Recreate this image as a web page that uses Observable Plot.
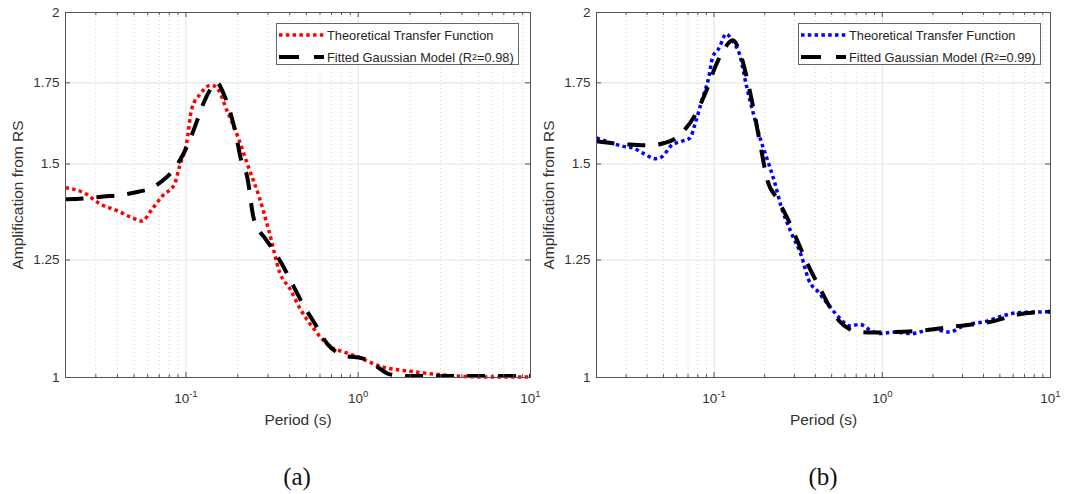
<!DOCTYPE html>
<html>
<head>
<meta charset="utf-8">
<script src="https://cdn.jsdelivr.net/npm/d3@7"></script>
<script src="https://cdn.jsdelivr.net/npm/@observablehq/plot@0.6"></script>
<style>
  body { margin: 0; background: #fff; width: 1067px; height: 494px; position: relative; overflow: hidden;
         font-family: "Liberation Sans", Arial, sans-serif; }
  .panel { position: absolute; top: 0; }
  .legend { position: absolute; background: #fff; border: 1px solid #666; box-sizing: border-box;
            font-size: 12.8px; color: #262626; }
  .legend .row { position: absolute; left: 0; height: 20px; display: flex; align-items: center; white-space: nowrap; }
  .legend svg { display: block; margin-left: 2px; margin-right: 3px; }
  .legend sup { font-size: 0.7em; vertical-align: 0.5em; line-height: 0; }
  .caption { position: absolute; top: 464px; font-family: "Liberation Serif", "Times New Roman", serif;
             font-size: 25px; line-height: 25px; color: #111; transform: translateX(-50%); }
</style>
</head>
<body>
<div id="panelA" class="panel" style="left:0;width:540px"></div>
<div id="panelB" class="panel" style="left:533px;width:534px"></div>
<div class="caption" style="left:297px">(a)</div>
<div class="caption" style="left:823px">(b)</div>
<script>
// Site (a): theoretical transfer function and fitted Gaussian model
const periodA_theory = [0.020, 0.0254, 0.0319, 0.0402, 0.0483, 0.0555, 0.0637, 0.0731, 0.0859, 0.092, 0.101, 0.108, 0.121, 0.139, 0.149, 0.175, 0.201, 0.231, 0.265, 0.305, 0.350, 0.402, 0.461, 0.555, 0.698, 0.839, 1.01, 1.33, 2.11, 3.34, 5.3, 10];
const ampA_theory    = [1.434, 1.421, 1.390, 1.372, 1.355, 1.346, 1.377, 1.412, 1.444, 1.495, 1.562, 1.665, 1.713, 1.742, 1.737, 1.654, 1.577, 1.490, 1.412, 1.317, 1.221, 1.183, 1.139, 1.096, 1.059, 1.049, 1.039, 1.022, 1.011, 1.004, 1.001, 1.001];
const periodA_fit = [0.020, 0.0254, 0.0333, 0.042, 0.053, 0.0608, 0.0731, 0.0839, 0.0964, 0.1057, 0.116, 0.127, 0.139, 0.150, 0.1675, 0.192, 0.211, 0.226, 0.248, 0.291, 0.319, 0.366, 0.42, 0.483, 0.555, 0.666, 0.839, 1.06, 1.27, 1.53, 1.92, 10];
const ampA_fit    = [1.403, 1.405, 1.410, 1.414, 1.423, 1.430, 1.453, 1.481, 1.528, 1.572, 1.628, 1.686, 1.729, 1.752, 1.707, 1.603, 1.504, 1.467, 1.351, 1.300, 1.276, 1.236, 1.190, 1.146, 1.110, 1.065, 1.042, 1.037, 1.022, 1.006, 1.003, 1.003];

// Site (b)
const periodB_theory = [0.020, 0.0239, 0.0288, 0.0331, 0.0382, 0.045, 0.0494, 0.0556, 0.064, 0.072, 0.0773, 0.0849, 0.0932, 0.0977, 0.107, 0.118, 0.129, 0.142, 0.156, 0.172, 0.189, 0.207, 0.228, 0.25, 0.288, 0.331, 0.364, 0.419, 0.483, 0.556, 0.64, 0.736, 0.849, 0.977, 1.18, 1.49, 1.98, 2.5, 3.02, 4.19, 5.3, 6.39, 10];
const ampB_theory    = [1.576, 1.563, 1.551, 1.546, 1.530, 1.515, 1.522, 1.553, 1.566, 1.576, 1.621, 1.695, 1.771, 1.834, 1.869, 1.920, 1.893, 1.846, 1.738, 1.647, 1.571, 1.513, 1.452, 1.385, 1.316, 1.259, 1.205, 1.175, 1.146, 1.120, 1.103, 1.106, 1.094, 1.087, 1.090, 1.087, 1.096, 1.090, 1.103, 1.113, 1.125, 1.131, 1.133];
const periodB_fit = [0.020, 0.0262, 0.0331, 0.0419, 0.0506, 0.0582, 0.067, 0.0773, 0.0889, 0.102, 0.115, 0.129, 0.142, 0.156, 0.172, 0.189, 0.207, 0.239, 0.275, 0.316, 0.364, 0.419, 0.483, 0.556, 0.64, 0.736, 0.889, 1.18, 1.8, 2.88, 4.6, 6.39, 10];
const ampB_fit    = [1.566, 1.559, 1.556, 1.554, 1.561, 1.573, 1.601, 1.647, 1.717, 1.806, 1.866, 1.897, 1.857, 1.771, 1.663, 1.551, 1.456, 1.402, 1.350, 1.292, 1.236, 1.190, 1.146, 1.113, 1.096, 1.090, 1.089, 1.090, 1.094, 1.103, 1.113, 1.127, 1.133];

// Axis ticks
const xMajor = [0.1, 1, 10];
const xMinor = [0.02, 0.03, 0.04, 0.05, 0.06, 0.07, 0.08, 0.09, 0.2, 0.3, 0.4, 0.5, 0.6, 0.7, 0.8, 0.9, 2, 3, 4, 5, 6, 7, 8, 9];
const yTicks = [1, 1.25, 1.5, 1.75, 2];
const yTickLabels = ["1", "1.25", "1.5", "1.75", "2"];

const seriesNames = ["Theoretical Transfer Function", "Fitted Gaussian Model"];
const xLabel = "Period (s)";
const yLabel = "Amplification from RS";

const zip = (xs, ys) => xs.map((x, i) => ({x, y: ys[i]}));

function drawPanel({el, width, ml, mr, theory, fit, color, r2, legendLeft}) {
  const height = 440, mt = 12, mb = 63;
  const fw = width - ml - mr, fh = height - mt - mb;
  const axisInk = "#555";
  const svg = Plot.plot({
    width, height, marginLeft: ml, marginRight: mr, marginTop: mt, marginBottom: mb,
    style: {background: "transparent", overflow: "visible", fontFamily: "'Liberation Sans', Arial, sans-serif"},
    x: {type: "log", domain: [0.02, 10]},
    y: {type: "log", domain: [1, 2]},
    marks: [
      // grid
      Plot.ruleX(xMinor.slice(1), {x: d => d, stroke: "#d4d4d4", strokeDasharray: "1,3"}),
      Plot.ruleX(xMajor.slice(0, 2), {x: d => d, stroke: "#e2e2e2"}),
      Plot.ruleY(yTicks.slice(1, -1), {y: d => d, stroke: "#e2e2e2"}),
      // curves
      Plot.line(theory, {x: "x", y: "y", stroke: color, strokeWidth: 3.5, strokeDasharray: "3.5,3.3",
                         strokeLinecap: "butt", curve: "monotone-x"}),
      Plot.line(fit, {x: "x", y: "y", stroke: "#000", strokeWidth: 4, strokeDasharray: "18,13",
                      strokeLinecap: "butt", curve: "monotone-x"}),
      // inward tick marks on all four sides
      Plot.tickX(xMajor, {x: d => d, insetTop: fh - 5, stroke: axisInk}),
      Plot.tickX(xMinor, {x: d => d, insetTop: fh - 3, stroke: axisInk}),
      Plot.tickX(xMajor, {x: d => d, insetBottom: fh - 5, stroke: axisInk}),
      Plot.tickX(xMinor, {x: d => d, insetBottom: fh - 3, stroke: axisInk}),
      Plot.tickY(yTicks, {y: d => d, insetRight: fw - 5, stroke: axisInk}),
      Plot.tickY(yTicks, {y: d => d, insetLeft: fw - 5, stroke: axisInk}),
      Plot.frame({stroke: axisInk}),
      // tick labels
      Plot.axisX({ticks: xMajor, tickSize: 0, tickPadding: 16, fontSize: 13.5, fill: "#333", label: null,
                  tickFormat: d => "10|" + Math.round(Math.log10(d))}),
      Plot.axisY({ticks: yTicks, tickSize: 0, tickPadding: 6, fontSize: 13.5, fill: "#333", label: null,
                  tickFormat: d => yTickLabels[yTicks.indexOf(d)]}),
      // axis titles
      Plot.text([xLabel], {text: d => d, frameAnchor: "bottom", dy: 43, fontSize: 15.5, fill: "#333",
                           textAnchor: "middle", lineAnchor: "middle"}),
      Plot.text([yLabel], {text: d => d, frameAnchor: "left", dx: -47, rotate: -90, fontSize: 15.5, fill: "#333",
                           textAnchor: "middle", lineAnchor: "middle"})
    ]
  });

  // power-of-ten labels with superscript exponents
  svg.querySelectorAll('[aria-label="x-axis tick label"] text').forEach(t => {
    const [base, exp] = t.textContent.split("|");
    t.textContent = base;
    const ts = document.createElementNS("http://www.w3.org/2000/svg", "tspan");
    ts.setAttribute("dy", "-6");
    ts.setAttribute("font-size", "9.5");
    ts.textContent = exp;
    t.appendChild(ts);
  });
  el.appendChild(svg);

  // legend box inside the upper-right corner of the axes
  const lg = document.createElement("div");
  lg.className = "legend";
  Object.assign(lg.style, {left: legendLeft + "px", top: "23px", width: "243px", height: "42px"});
  const swatch = (stroke, width, dash) =>
    `<svg width="45" height="8"><line x1="0" x2="45" y1="4" y2="4" stroke="${stroke}" stroke-width="${width}" stroke-dasharray="${dash}"/></svg>`;
  lg.innerHTML =
    `<div class="row" style="top:1px">${swatch(color, 3.5, "3.5,3.3")}${seriesNames[0]}</div>` +
    `<div class="row" style="top:23px">${swatch("#000", 4, "20,15")}${seriesNames[1]} (R<sup>2</sup>=${r2})</div>`;
  document.body.appendChild(lg);
}

drawPanel({el: document.getElementById("panelA"), width: 540, ml: 65, mr: 10,
           theory: zip(periodA_theory, ampA_theory), fit: zip(periodA_fit, ampA_fit),
           color: "#ff0000", r2: "0.98", legendLeft: 276});
drawPanel({el: document.getElementById("panelB"), width: 534, ml: 63, mr: 17,
           theory: zip(periodB_theory, ampB_theory), fit: zip(periodB_fit, ampB_fit),
           color: "#0000ff", r2: "0.99", legendLeft: 798});
</script>
</body>
</html>
